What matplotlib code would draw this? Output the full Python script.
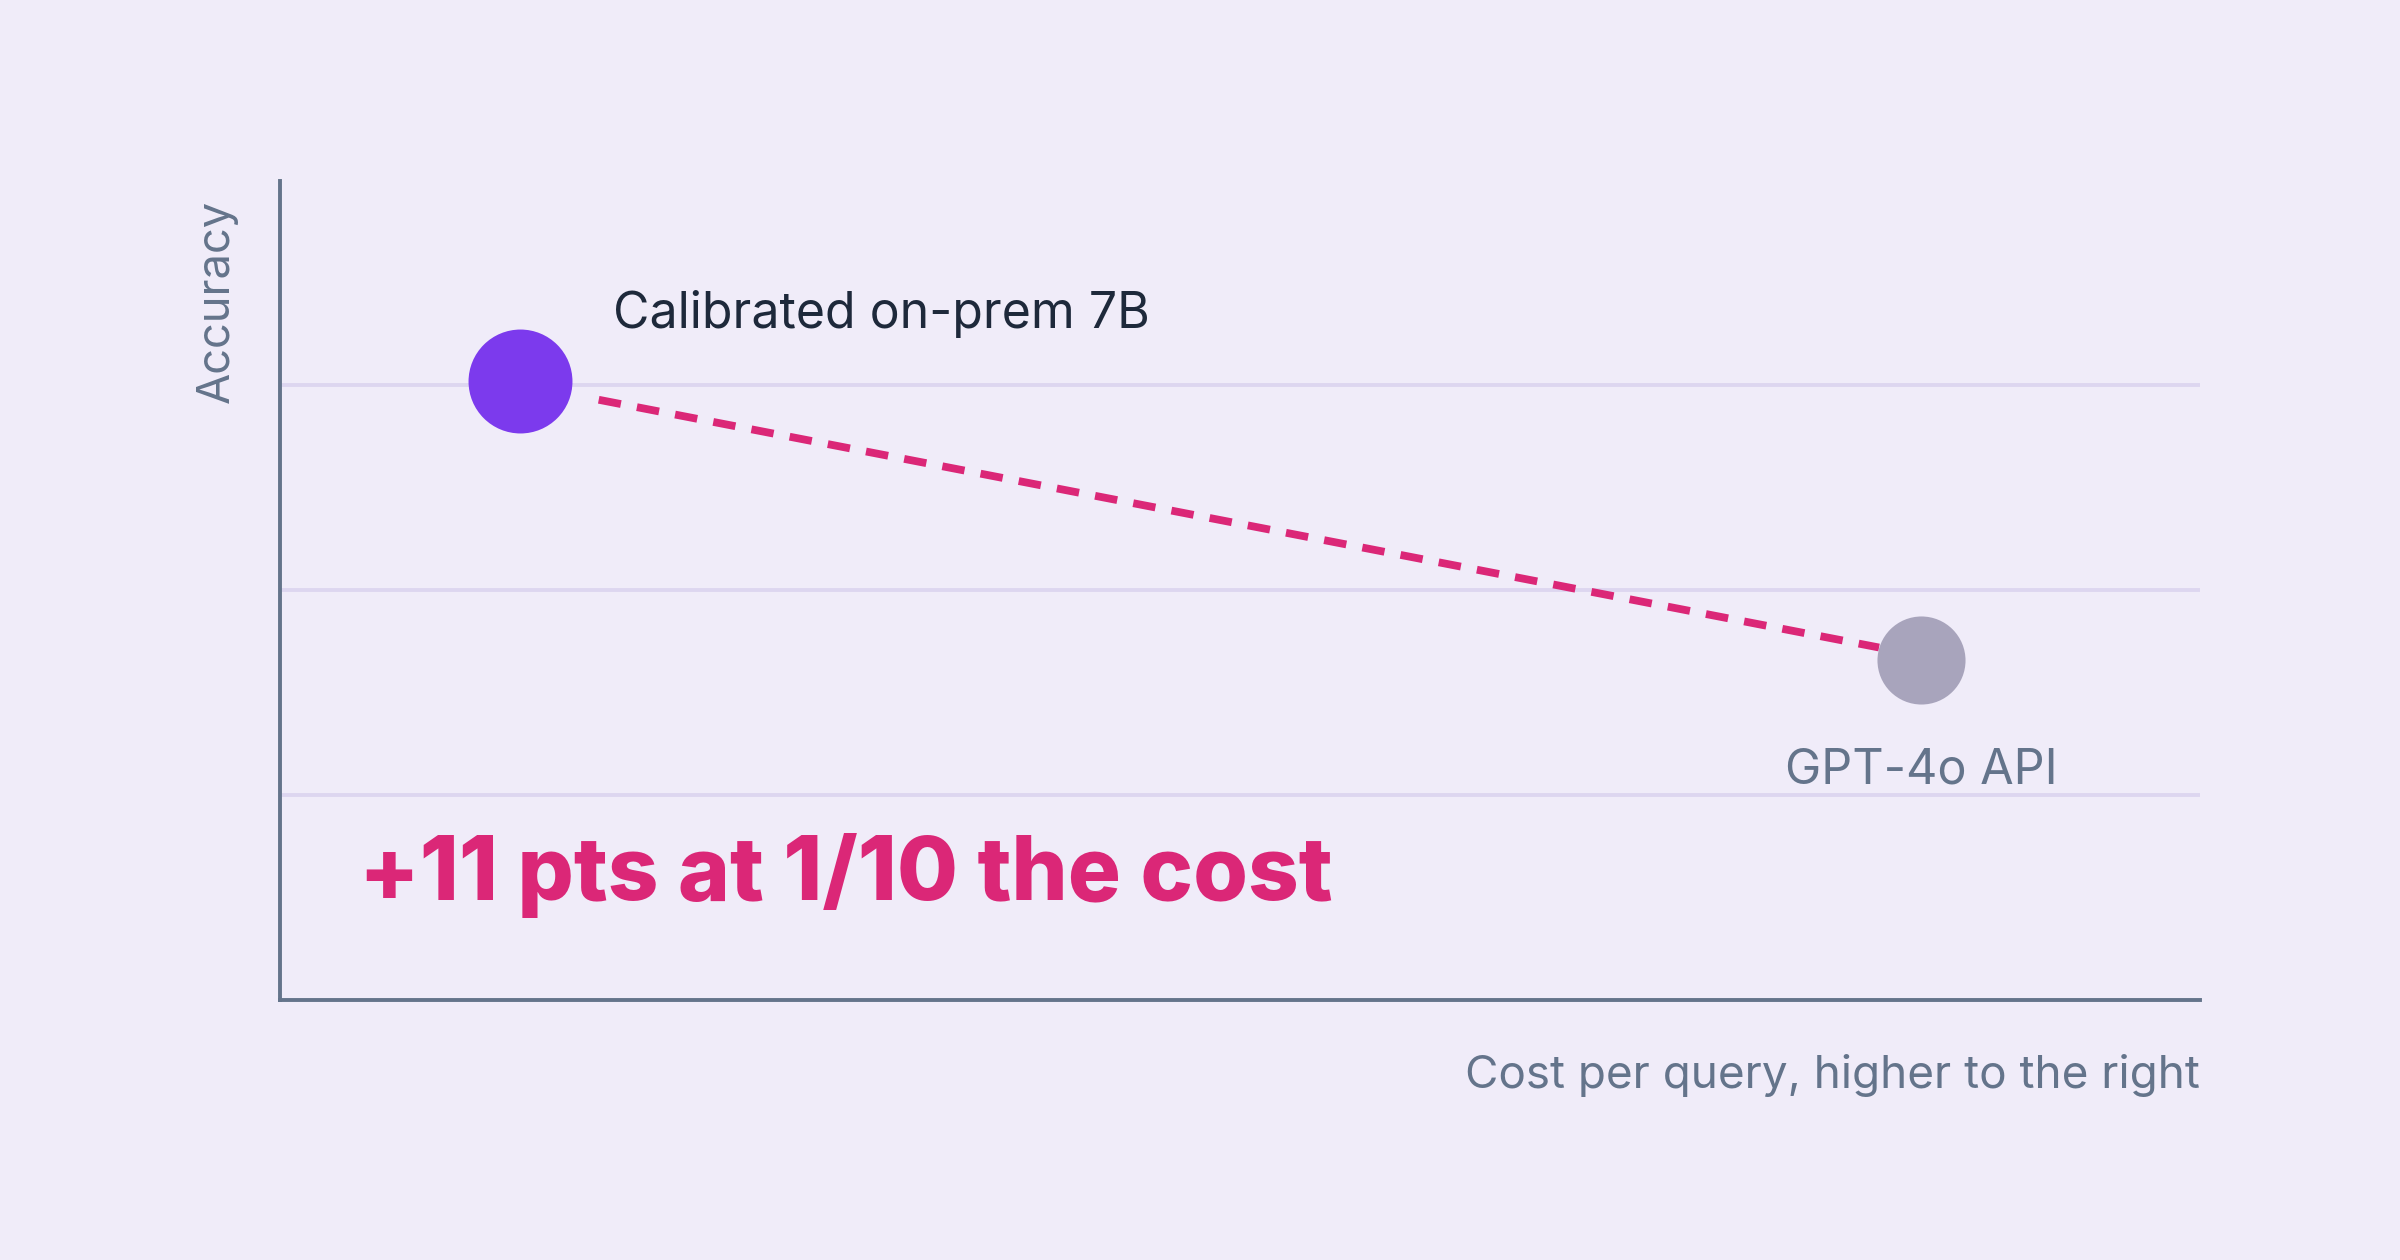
import numpy as np
import matplotlib
matplotlib.use('Agg')
import matplotlib.pyplot as plt

# data (arbitrary units: cost 0-100, accuracy 0-4)
models = ['Calibrated on-prem 7B', 'GPT-4o API']
cost = [12.5, 85.5]
acc = [3.02, 1.66]
link_x = [16.6, 83.3]
link_y = [2.93, 1.72]
headline = '+11 pts at 1/10 the cost'
grid_y = [1, 2, 3]

bg = '#f0ecf9'
slate = '#64748b'
pink = '#db2777'

plt.rcParams['font.family'] = ['Inter', 'DejaVu Sans']

fig = plt.figure(figsize=(12, 6.3), dpi=200, facecolor=bg)
ax = fig.add_axes([0.1167, 0.2066, 0.7998, 0.65])
ax.set_facecolor(bg)
ax.set_xlim(0, 100)
ax.set_ylim(0, 4)

for g in grid_y:
    ax.axhline(g, color='#ddd6f0', linewidth=1.4, zorder=1)

ax.plot(link_x, link_y, color=pink, linewidth=2.8, dashes=(2.9, 2.1), zorder=2)
ax.scatter(cost[0], acc[0], s=1400, color='#7c3aed', linewidths=0, zorder=3)
ax.scatter(cost[1], acc[1], s=1005, color='#a8a4bc', linewidths=0, zorder=3)

ax.text(17.35, 3.28, models[0], fontsize=18, color='#1e293b', ha='left', va='baseline')
ax.text(cost[1], 1.054, models[1], fontsize=17.5, color=slate, ha='center', va='baseline')
ax.text(4.1, 0.488, headline, fontsize=31.9, fontweight='heavy', color=pink, ha='left', va='baseline')

for s in ['top', 'right']:
    ax.spines[s].set_visible(False)
for s in ['left', 'bottom']:
    ax.spines[s].set_color(slate)
    ax.spines[s].set_linewidth(1.4)
ax.set_xticks([])
ax.set_yticks([])

fig.text(0.0905, 0.761, 'Accuracy', rotation=90, fontsize=16.3, color=slate, ha='center', va='center')
fig.text(0.9165, 0.1365, 'Cost per query, higher to the right', fontsize=16.5, color=slate, ha='right', va='baseline')

plt.savefig('out.png', dpi=200, facecolor=bg)
